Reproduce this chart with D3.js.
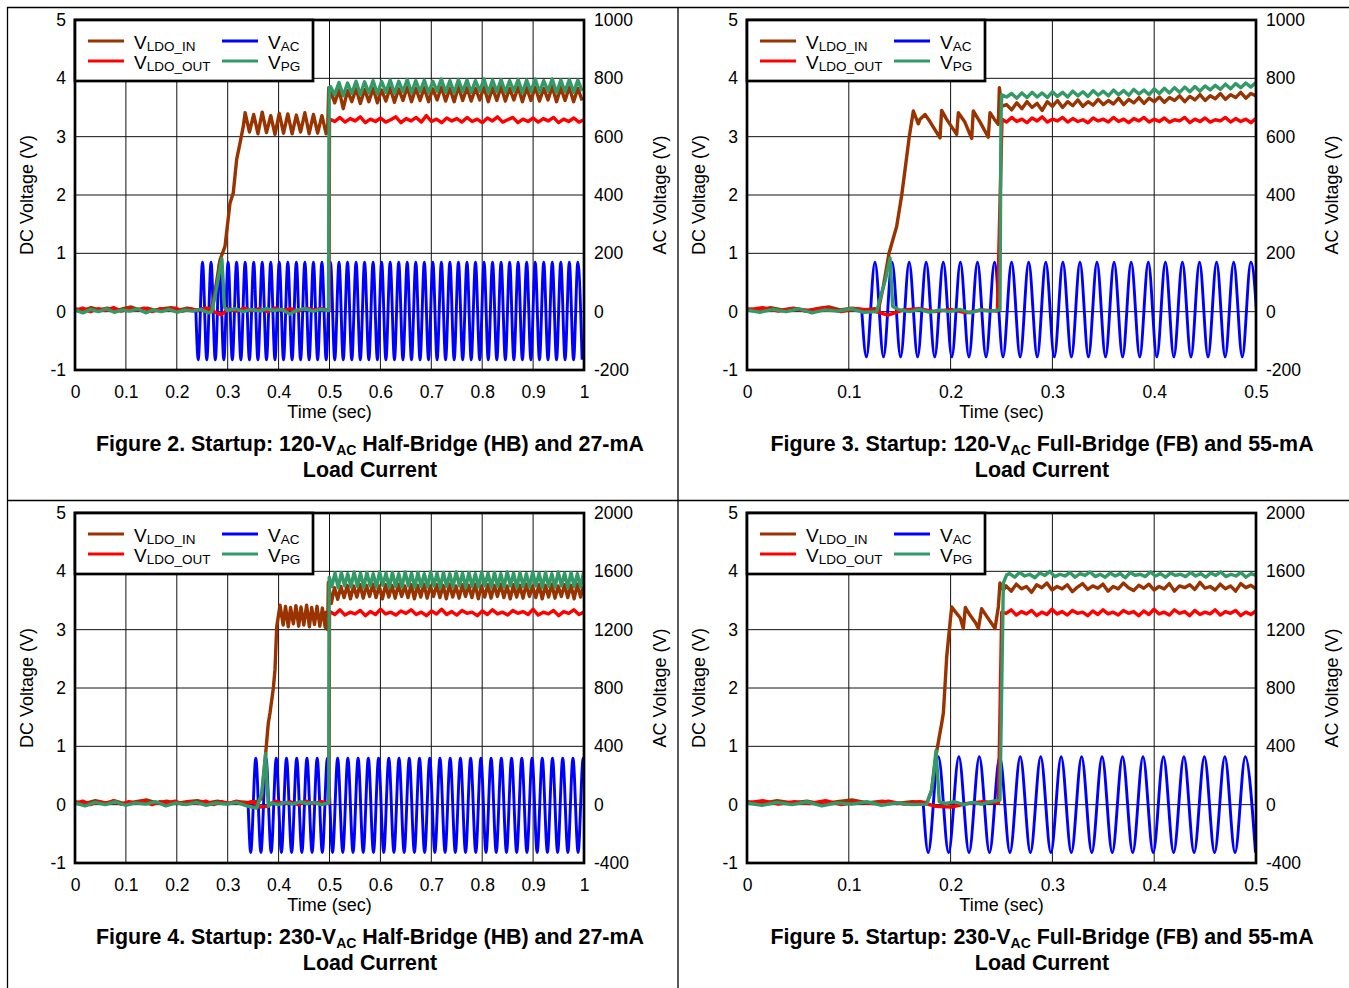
<!DOCTYPE html>
<html>
<head>
<meta charset="utf-8">
<script src="https://cdn.jsdelivr.net/npm/d3@7"></script>
<style>
  body { margin: 0; background: #fff; }
  svg text { font-family: "Liberation Sans", Arial, Helvetica, sans-serif; fill: #000; }
</style>
</head>
<body>
<svg id="svg" width="1349" height="988"></svg>
<script>
// ---------- ticks / labels ----------
const dcTicks = [-1, 0, 1, 2, 3, 4, 5]
const acTicks120 = [-200, 0, 200, 400, 600, 800, 1000]
const acTicks230 = [-400, 0, 400, 800, 1200, 1600, 2000]
const timeTicksFull = [0, 0.1, 0.2, 0.3, 0.4, 0.5, 0.6, 0.7, 0.8, 0.9, 1]
const timeTicksHalf = [0, 0.1, 0.2, 0.3, 0.4, 0.5]
const legendNames = ['LDO_IN', 'LDO_OUT', 'AC', 'PG']
const titleHead = ['Figure 2. Startup: 120-V', 'Figure 3. Startup: 120-V', 'Figure 4. Startup: 230-V', 'Figure 5. Startup: 230-V']
const titleTail = [' Half-Bridge (HB) and 27-mA', ' Full-Bridge (FB) and 55-mA', ' Half-Bridge (HB) and 27-mA', ' Full-Bridge (FB) and 55-mA']

// ---------- Figure 2 : 120 VAC half bridge ----------
const fig2AcStart = 0.2375
const fig2AcLevel = [170, -165]
const fig2AcPeakT = [0.2505,0.2673,0.2840,0.3008,0.3175,0.3343,0.3511,0.3678,0.3846,0.4013,0.4181,0.4349,0.4516,0.4684,0.4851,0.5019,0.5187,0.5354,0.5522,0.5689,0.5857,0.6025,0.6192,0.6360,0.6527,0.6695,0.6863,0.7030,0.7198,0.7365,0.7533,0.7701,0.7868,0.8036,0.8203,0.8371,0.8539,0.8706,0.8874,0.9041,0.9209,0.9377,0.9544,0.9712,0.9879]
const fig2AcTroughT = [0.2421,0.2589,0.2756,0.2924,0.3091,0.3259,0.3427,0.3594,0.3762,0.3929,0.4097,0.4265,0.4432,0.4600,0.4767,0.4935,0.5103,0.5270,0.5438,0.5605,0.5773,0.5941,0.6108,0.6276,0.6443,0.6611,0.6779,0.6946,0.7114,0.7281,0.7449,0.7617,0.7784,0.7952,0.8119,0.8287,0.8455,0.8622,0.8790,0.8957,0.9125,0.9293,0.9460,0.9628,0.9795,0.9963]

const fig2InBase = [0.05,0.02,0.07,0.03,0.06,0.01,0.05,0.08,0.03,0.06,0.02,0.05,0.07,0.03,0.06,0.02,0.05,0.06]
const fig2InRise = [[0.272,0.2],[0.278,0.5],[0.285,0.89],[0.2947,1.12],[0.3045,1.86],[0.311,2.04],[0.3176,2.61],[0.3242,2.89],[0.3307,3.18],[0.3343,3.41],[0.3427,3.08],[0.3511,3.38],[0.3594,3.05],[0.3678,3.42],[0.3762,3.07],[0.3846,3.36],[0.3929,3.04],[0.4013,3.40],[0.4097,3.06],[0.4181,3.39],[0.4265,3.05],[0.4349,3.37],[0.4432,3.08],[0.4516,3.41],[0.4600,3.05],[0.4684,3.38],[0.4767,3.06],[0.4851,3.36],[0.4935,3.05],[0.4965,3.15],[0.4985,3.84]]
const fig2InTail = [3.78,3.58,3.80,3.48,3.79,3.60,3.82,3.57,3.81,3.60,3.83,3.58,3.80,3.61,3.84,3.59,3.82,3.62,3.85,3.60,3.83,3.62,3.84,3.60,3.82,3.63,3.85,3.61,3.83,3.60,3.86,3.62,3.84,3.61,3.83,3.63,3.85,3.60,3.84,3.62,3.86,3.61,3.83,3.63,3.85,3.60,3.84,3.62,3.85,3.61,3.83,3.63,3.86,3.60,3.84,3.62,3.85,3.60,3.83,3.62]
const fig2OutBase = [0.02,0.06,0.0,0.05,0.02,0.07,0.01,0.05,0.03,0.06,0.0,0.05,0.03,0.06,0.01,0.05,0.02,0.06,0.0,-0.05,0.05,0.01,0.06,0.02,0.05,0.0,0.06,0.02,0.05,0.01,0.06,0.03,0.05,0.02]
const fig2OutTail = [3.30,3.26,3.33,3.25,3.31,3.27,3.34,3.24,3.30,3.26,3.32,3.25,3.29,3.34,3.24,3.31,3.27,3.33,3.25,3.36,3.26,3.30,3.24,3.32,3.27,3.31,3.25,3.33,3.26,3.30,3.24,3.32,3.27,3.34,3.25,3.29,3.33,3.24,3.30,3.26,3.32,3.25,3.31,3.27,3.33,3.24,3.30,3.26,3.32,3.25,3.29]
const fig2PgBase = [0.03,-0.02,0.04,0.0,0.05,-0.01,0.03,0.01,0.05,-0.02,0.03,0.0,0.04,-0.01,0.03,0.01,0.04,-0.02]
const fig2PgSpike = [[0.2686,0.0],[0.276,0.3],[0.282,0.6],[0.2885,0.91],[0.2905,0.6],[0.2935,0.08]]
const fig2PgMid = [0.02,0.05,0.0,0.04,0.01,0.05,0.02,0.04,-0.04,0.03,0.05,0.01,0.04,0.02]
const fig2PgTail = [3.86,3.72,3.93,3.70,3.92,3.74,3.95,3.72,3.94,3.75,3.96,3.73,3.95,3.76,3.97,3.74,3.95,3.77,3.98,3.75,3.96,3.77,3.97,3.75,3.95,3.78,3.99,3.76,3.96,3.75,3.98,3.77,3.97,3.76,3.96,3.78,3.99,3.75,3.97,3.77,3.98,3.76,3.96,3.78,3.98,3.75,3.97,3.77,3.99,3.76,3.96,3.78,3.99,3.75,3.97,3.77,3.98,3.76,3.97,3.78]

// ---------- Figure 3 : 120 VAC full bridge ----------
const fig3AcStart = 0.1128
const fig3AcLevel = [170, -155]
const fig3AcPeakT = [0.1257,0.1425,0.1593,0.1760,0.1928,0.2096,0.2264,0.2432,0.2599,0.2767,0.2935,0.3103,0.3271,0.3438,0.3606,0.3774,0.3942,0.4110,0.4277,0.4445,0.4613,0.4781,0.4949]
const fig3AcTroughT = [0.1173,0.1341,0.1509,0.1676,0.1844,0.2012,0.2180,0.2348,0.2515,0.2683,0.2851,0.3019,0.3187,0.3354,0.3522,0.3690,0.3858,0.4026,0.4193,0.4361,0.4529,0.4697,0.4865,0.5033]

const fig3InBase = [0.05,0.02,0.07,0.03,0.06,0.01,0.05,0.08,0.03,0.06,0.03,0.05]
const fig3InRise = [[0.129,0.03],[0.1339,0.43],[0.1395,1.0],[0.147,1.46],[0.152,2.0],[0.1552,2.43],[0.1594,3.0],[0.1634,3.44],[0.1683,3.22],[0.1700,3.3],[0.1749,3.38],[0.1800,3.25],[0.1896,2.98],[0.1912,3.45],[0.1960,3.3],[0.206,3.04],[0.2076,3.41],[0.2140,3.25],[0.2207,2.97],[0.2223,3.44],[0.2290,3.25],[0.237,2.99],[0.2387,3.41],[0.2430,3.3],[0.2469,3.21],[0.2479,3.84],[0.2502,3.52]]
const fig3InTail = [3.55,3.46,3.58,3.48,3.6,3.5,3.57,3.45,3.6,3.52,3.62,3.5,3.6,3.53,3.63,3.52,3.6,3.54,3.64,3.55,3.62,3.56,3.66,3.55,3.64,3.58,3.67,3.57,3.66,3.6,3.68,3.59,3.67,3.62,3.7,3.6,3.69,3.63,3.72,3.62,3.7,3.65,3.74,3.64,3.72,3.67,3.76,3.66,3.74,3.7]
const fig3OutBase = [0.03,0.07,0.01,0.05,0.02,0.07,0.0,0.05,0.02,-0.06,0.03,0.05,0.0,0.04,-0.02,0.03,0.01]
const fig3OutTail = [3.25,3.33,3.26,3.3,3.24,3.32,3.27,3.34,3.25,3.3,3.27,3.33,3.25,3.31,3.26,3.29,3.24,3.32,3.27,3.3,3.25,3.33,3.26,3.3,3.24,3.31,3.27,3.33,3.25,3.3,3.26,3.32,3.25,3.29,3.27,3.33,3.24,3.3,3.26,3.32,3.25,3.29,3.27,3.33,3.25,3.31,3.26,3.3,3.24,3.31]
const fig3PgBase = [0.03,-0.01,0.04,0.0,0.05,-0.02,0.03,0.01,0.05,-0.01,0.0]
const fig3PgSpike = [[0.132,0.3],[0.136,0.55],[0.1405,0.92],[0.1431,0.09]]
const fig3PgMid = [0.03,0.0,0.04,-0.01,0.03,0.0,0.04,-0.02,0.03,0.01,0.03]
const fig3PgTail = [3.68,3.74,3.66,3.75,3.67,3.76,3.68,3.75,3.67,3.77,3.69,3.76,3.68,3.78,3.7,3.77,3.69,3.79,3.71,3.78,3.7,3.8,3.72,3.79,3.71,3.81,3.73,3.8,3.72,3.82,3.74,3.83,3.75,3.84,3.76,3.85,3.77,3.86,3.78,3.87,3.8,3.88,3.81,3.9,3.82,3.91,3.84,3.92,3.85,3.93]

// ---------- Figure 4 : 230 VAC half bridge ----------
const fig4AcStart = 0.3402
const fig4AcLevel = [318, -328]
const fig4AcPeakT = [0.3552,0.3753,0.3954,0.4155,0.4356,0.4557,0.4758,0.4959,0.5160,0.5361,0.5562,0.5763,0.5964,0.6165,0.6366,0.6567,0.6768,0.6969,0.7170,0.7371,0.7572,0.7773,0.7974,0.8175,0.8376,0.8577,0.8778,0.8979,0.9180,0.9381,0.9582,0.9783,0.9984]
const fig4AcTroughT = [0.3452,0.3653,0.3854,0.4055,0.4256,0.4457,0.4658,0.4859,0.5060,0.5261,0.5462,0.5663,0.5864,0.6065,0.6266,0.6467,0.6668,0.6869,0.7070,0.7271,0.7472,0.7673,0.7874,0.8075,0.8276,0.8477,0.8678,0.8879,0.9080,0.9281,0.9482,0.9683,0.9884,1.0085]

const fig4InBase = [0.05,0.02,0.07,0.03,0.06,0.01,0.05,0.08,0.03,0.06,0.02,0.05,0.07,0.03,0.06,0.02,0.05,0.04,0.06]
const fig4InRise = [[0.3667,0.11],[0.3746,0.88],[0.3798,1.4],[0.3831,1.57],[0.3897,2.0],[0.3929,2.31],[0.3963,3.05],[0.4028,3.42],[0.409,3.08],[0.4135,3.40],[0.419,3.05],[0.4235,3.38],[0.429,3.1],[0.434,3.41],[0.4395,3.06],[0.444,3.39],[0.4495,3.08],[0.455,3.42],[0.4605,3.05],[0.465,3.38],[0.4705,3.09],[0.4755,3.40],[0.481,3.06],[0.486,3.37],[0.4915,3.04],[0.4935,3.3],[0.4964,3.0],[0.4977,3.81]]
const fig4InTail = [3.45,3.72,3.52,3.74,3.55,3.76,3.53,3.75,3.56,3.77,3.54,3.76,3.57,3.78,3.55,3.75,3.53,3.77,3.56,3.76,3.54,3.78,3.57,3.75,3.55,3.77,3.53,3.76,3.56,3.78,3.54,3.75,3.57,3.77,3.55,3.76,3.53,3.78,3.56,3.75,3.54,3.77,3.57,3.76,3.55,3.78,3.53,3.75,3.56,3.77,3.54,3.76,3.57,3.78,3.55,3.75,3.53,3.77,3.56,3.76,3.54,3.78,3.57,3.75,3.55,3.77,3.53,3.76,3.56,3.78,3.54,3.75,3.57,3.77,3.55,3.76,3.53,3.78,3.56,3.75]
const fig4OutBase = [0.02,0.06,0.0,0.05,0.02,0.07,0.01,0.05,0.03,0.06,0.0,0.05,0.03,0.06,0.01,0.05,0.02,0.06,0.0,0.05,0.02,0.06,0.01,0.05,-0.04,-0.03,0.06,0.02,0.05,0.0,0.06,0.02,0.05,0.02]
const fig4OutTail = [3.31,3.26,3.34,3.25,3.3,3.27,3.33,3.24,3.31,3.26,3.35,3.27,3.3,3.25,3.32,3.28,3.34,3.26,3.3,3.24,3.32,3.27,3.35,3.26,3.31,3.25,3.33,3.28,3.3,3.24,3.32,3.26,3.34,3.27,3.3,3.25,3.33,3.28,3.31,3.26,3.35,3.25,3.3,3.27,3.33,3.24,3.31,3.28,3.34,3.26,3.3]
const fig4PgBase = [0.03,-0.02,0.04,0.0,0.05,-0.01,0.03,0.01,0.05,-0.02,0.03,0.0,0.04,-0.01,0.03,0.01,0.04,-0.02,-0.06]
const fig4PgSpike = [[0.3667,0.19],[0.3746,0.88],[0.3765,0.5],[0.3798,-0.03]]
const fig4PgMid = [0.03,0.0,0.04,0.01,0.05,0.02,0.04,0.0,0.03]
const fig4PgTail = [3.74,3.97,3.72,3.98,3.75,3.96,3.73,3.99,3.74,3.97,3.72,3.98,3.75,3.96,3.73,3.99,3.76,3.97,3.72,3.98,3.74,3.96,3.73,3.99,3.75,3.97,3.72,3.98,3.74,3.96,3.73,3.99,3.75,3.97,3.72,3.98,3.74,3.96,3.73,3.99,3.75,3.97,3.72,3.98,3.74,3.96,3.73,3.99,3.75,3.97,3.72,3.98,3.74,3.96,3.73,3.99,3.75,3.97,3.72,3.98,3.74,3.96,3.73,3.99,3.75,3.97,3.72,3.98,3.74,3.96,3.73,3.99,3.75,3.97,3.72,3.98,3.74,3.96,3.73,3.99]

// ---------- Figure 5 : 230 VAC full bridge ----------
const fig5AcStart = 0.1732
const fig5AcLevel = [329, -329]
const fig5AcPeakT = [0.1880,0.2081,0.2282,0.2483,0.2684,0.2885,0.3086,0.3287,0.3488,0.3689,0.3890,0.4091,0.4292,0.4493,0.4694,0.4895]
const fig5AcTroughT = [0.1780,0.1980,0.2181,0.2382,0.2583,0.2784,0.2985,0.3186,0.3387,0.3588,0.3789,0.3990,0.4191,0.4392,0.4593,0.4794,0.4995]

const fig5InBase = [0.05,0.02,0.07,0.03,0.06,0.01,0.05,0.08,0.03,0.06,0.02,0.05,0.04]
const fig5InRise = [[0.1814,0.25],[0.1863,0.91],[0.1912,1.39],[0.1929,1.57],[0.1962,2.54],[0.1994,3.11],[0.2011,3.39],[0.205,3.3],[0.2095,3.2],[0.2125,3.02],[0.2145,3.38],[0.219,3.25],[0.2245,3.12],[0.2273,3.02],[0.2305,3.36],[0.235,3.24],[0.2405,3.1],[0.2436,3.02],[0.2469,3.39],[0.2485,3.8],[0.2518,3.68]]
const fig5InTail = [3.75,3.66,3.78,3.7,3.74,3.64,3.77,3.72,3.8,3.68,3.74,3.7,3.77,3.65,3.73,3.79,3.69,3.75,3.71,3.78,3.66,3.74,3.7,3.8,3.72,3.67,3.76,3.71,3.78,3.68,3.74,3.7,3.79,3.66,3.75,3.72,3.77,3.69,3.81,3.71,3.74,3.68,3.78,3.7,3.75,3.66,3.79,3.72,3.76,3.7]
const fig5OutBase = [0.03,0.07,0.01,0.05,0.02,0.07,0.0,0.05,0.02,0.06,0.01,0.05,-0.03,-0.04,0.02,0.05,0.03]
const fig5OutTail = [3.28,3.34,3.25,3.31,3.27,3.33,3.24,3.3,3.26,3.35,3.27,3.31,3.25,3.33,3.28,3.3,3.24,3.32,3.26,3.34,3.27,3.3,3.25,3.33,3.28,3.31,3.24,3.32,3.26,3.35,3.27,3.3,3.25,3.34,3.28,3.31,3.24,3.33,3.26,3.3,3.27,3.34,3.25,3.31,3.28,3.33,3.24,3.3,3.26,3.32]
const fig5PgBase = [0.03,-0.01,0.04,0.0,0.05,-0.02,0.03,0.01,0.05,-0.01,0.03,0.0,0.01]
const fig5PgSpike = [[0.1814,0.25],[0.1857,0.93],[0.1889,0.05]]
const fig5PgMid = [0.02,0.05,0.0,0.04,0.01,0.05,0.08]
const fig5PgTail = [3.96,3.9,3.98,3.92,3.95,3.89,3.97,3.93,4.0,3.91,3.95,3.92,3.98,3.9,3.96,3.93,3.99,3.91,3.95,3.9,3.97,3.92,3.96,3.89,3.98,3.93,3.95,3.91,3.99,3.92,3.96,3.9,3.97,3.93,3.95,3.91,3.98,3.92,3.96,3.9,3.97,3.93,3.99,3.91,3.95,3.92,3.98,3.9,3.96,3.93]

// ---------- helpers ----------
// evenly sampled stretch of a scope trace
function samples(span, vals) {
  const step = (span[1] - span[0]) / (vals.length - 1)
  return vals.map((v, i) => [span[0] + i * step, v])
}
function acWave(start, peakT, troughT, level) {
  const pts = [[start, 0]]
  peakT.forEach(t => pts.push([t, level[0]]))
  troughT.forEach(t => pts.push([t, level[1]]))
  return pts.sort((a, b) => a[0] - b[0])
}

const colors = { in: '#993300', out: '#ff0000', ac: '#0000ff', pg: '#339966' }

const panels = [
  {
    dx: 0, dy: 0, tMax: 1, timeTicks: timeTicksFull, acTicks: acTicks120,
    ac: acWave(fig2AcStart, fig2AcPeakT, fig2AcTroughT, fig2AcLevel),
    ldoIn: [...samples([0, 0.268], fig2InBase), ...fig2InRise, ...samples([0.5019, 0.9963], fig2InTail)],
    ldoOut: [...samples([0, 0.499], fig2OutBase), [0.5, 3.3], ...samples([0.5005, 1.0], fig2OutTail)],
    pg: [...samples([0, 0.262], fig2PgBase), ...fig2PgSpike, ...samples([0.30, 0.498], fig2PgMid), [0.4995, 3.84], ...samples([0.5019, 0.9963], fig2PgTail)]
  },
  {
    dx: 672, dy: 0, tMax: 0.5, timeTicks: timeTicksHalf, acTicks: acTicks120,
    ac: acWave(fig3AcStart, fig3AcPeakT, fig3AcTroughT, fig3AcLevel),
    ldoIn: [...samples([0, 0.126], fig3InBase), ...fig3InRise, ...samples([0.255, 0.5], fig3InTail)],
    ldoOut: [...samples([0, 0.246], fig3OutBase), [0.2505, 3.3], ...samples([0.255, 0.5], fig3OutTail)],
    pg: [...samples([0, 0.1274], fig3PgBase), ...fig3PgSpike, ...samples([0.15, 0.2485], fig3PgMid), [0.2495, 3.3], [0.2502, 3.72], ...samples([0.255, 0.5], fig3PgTail)]
  },
  {
    dx: 0, dy: 493, tMax: 1, timeTicks: timeTicksFull, acTicks: acTicks230,
    ac: acWave(fig4AcStart, fig4AcPeakT, fig4AcTroughT, fig4AcLevel),
    ldoIn: [...samples([0, 0.36], fig4InBase), ...fig4InRise, ...samples([0.5035, 0.9995], fig4InTail)],
    ldoOut: [...samples([0, 0.499], fig4OutBase), [0.5, 3.3], ...samples([0.5005, 1.0], fig4OutTail)],
    pg: [...samples([0, 0.357], fig4PgBase), ...fig4PgSpike, ...samples([0.385, 0.4985], fig4PgMid), [0.4995, 3.9], ...samples([0.5045, 0.9995], fig4PgTail)]
  },
  {
    dx: 672, dy: 493, tMax: 0.5, timeTicks: timeTicksHalf, acTicks: acTicks230,
    ac: acWave(fig5AcStart, fig5AcPeakT, fig5AcTroughT, fig5AcLevel),
    ldoIn: [...samples([0, 0.177], fig5InBase), ...fig5InRise, ...samples([0.2545, 0.5], fig5InTail)],
    ldoOut: [...samples([0, 0.247], fig5OutBase), [0.2502, 3.3], ...samples([0.2545, 0.5], fig5OutTail)],
    pg: [...samples([0, 0.1765], fig5PgBase), ...fig5PgSpike, ...samples([0.195, 0.2485], fig5PgMid), [0.2518, 3.8], [0.2551, 3.94], ...samples([0.258, 0.5], fig5PgTail)]
  }
]

// ---------- layout ----------
const svg = d3.select('#svg')
const plotW = 509, plotH = 350
const plotLeft = 75, plotTop = 20

// outer document frame
const frame = svg.append('g').attr('stroke', '#000').attr('stroke-width', 1.3)
frame.append('line').attr('x1', 7).attr('x2', 1349).attr('y1', 7.5).attr('y2', 7.5)
frame.append('line').attr('x1', 7).attr('x2', 1349).attr('y1', 500.5).attr('y2', 500.5)
frame.append('line').attr('x1', 7.5).attr('x2', 7.5).attr('y1', 7).attr('y2', 988)
frame.append('line').attr('x1', 678).attr('x2', 678).attr('y1', 7).attr('y2', 988)

panels.forEach((p, idx) => {
  const g = svg.append('g')
    .attr('transform', 'translate(' + (plotLeft + p.dx) + ',' + (plotTop + p.dy) + ')')

  const x = d3.scaleLinear().domain([0, p.tMax]).range([0, plotW])
  const yL = d3.scaleLinear().domain([-1, 5]).range([plotH, 0])
  const yR = d3.scaleLinear().domain([p.acTicks[0], p.acTicks[p.acTicks.length - 1]]).range([plotH, 0])

  // grid
  const grid = g.append('g').attr('stroke', '#111').attr('stroke-width', 1)
  grid.selectAll('.vg').data(p.timeTicks).enter().append('line')
    .attr('x1', d => x(d)).attr('x2', d => x(d)).attr('y1', 0).attr('y2', plotH)
  grid.selectAll('.hg').data(dcTicks).enter().append('line')
    .attr('x1', 0).attr('x2', plotW).attr('y1', d => yL(d)).attr('y2', d => yL(d))

  // traces
  const clipId = 'clip' + idx
  g.append('clipPath').attr('id', clipId).append('rect')
    .attr('x', 0).attr('y', 0).attr('width', plotW).attr('height', plotH)
  const traces = g.append('g').attr('clip-path', 'url(#' + clipId + ')')
    .attr('fill', 'none').attr('stroke-linejoin', 'round')

  const lineDc = d3.line().x(d => x(d[0])).y(d => yL(d[1]))
  const lineAc = d3.line().x(d => x(d[0])).y(d => yR(d[1])).curve(d3.curveMonotoneX)

  traces.append('path').attr('d', lineAc(p.ac)).attr('stroke', colors.ac).attr('stroke-width', 2.9)
  traces.append('path').attr('d', lineDc(p.ldoIn)).attr('stroke', colors.in).attr('stroke-width', 3.4)
  traces.append('path').attr('d', lineDc(p.ldoOut)).attr('stroke', colors.out).attr('stroke-width', 3.4)
  traces.append('path').attr('d', lineDc(p.pg)).attr('stroke', colors.pg).attr('stroke-width', 3.4)

  // plot frame
  g.append('rect').attr('x', 0).attr('y', 0).attr('width', plotW).attr('height', plotH)
    .attr('fill', 'none').attr('stroke', '#000').attr('stroke-width', 2.7)

  // axes
  const axL = g.append('g').call(d3.axisLeft(yL).tickValues(dcTicks).tickSize(0).tickPadding(9).tickFormat(d => String(d)))
  const axR = g.append('g').attr('transform', 'translate(' + plotW + ',0)')
    .call(d3.axisRight(yR).tickValues(p.acTicks).tickSize(0).tickPadding(10).tickFormat(d => String(d)))
  const axB = g.append('g').attr('transform', 'translate(0,' + plotH + ')')
    .call(d3.axisBottom(x).tickValues(p.timeTicks).tickSize(0).tickPadding(16).tickFormat(d => String(d)))
  ;[axL, axR, axB].forEach(a => {
    a.select('.domain').remove()
    a.attr('font-family', null).attr('font-size', null)
    a.selectAll('text').attr('font-size', '17.5px')
  })

  // axis titles
  g.append('text').attr('transform', 'translate(-48,' + plotH / 2 + ') rotate(-90)')
    .attr('text-anchor', 'middle').attr('dy', '0.35em').attr('font-size', '18px').text('DC Voltage (V)')
  g.append('text').attr('transform', 'translate(' + (plotW + 76) + ',' + plotH / 2 + ') rotate(-90)')
    .attr('text-anchor', 'middle').attr('dy', '0.35em').attr('font-size', '18px').text('AC Voltage (V)')
  g.append('text').attr('x', plotW / 2).attr('y', plotH + 48)
    .attr('text-anchor', 'middle').attr('font-size', '18px').text('Time (sec)')

  // legend
  const leg = g.append('g')
  leg.append('rect').attr('x', 0).attr('y', 0).attr('width', 238).attr('height', 61)
    .attr('fill', '#fff').attr('stroke', '#000').attr('stroke-width', 2.7)
  const legItems = [
    { name: legendNames[0], color: colors.in, col: 0, row: 0 },
    { name: legendNames[1], color: colors.out, col: 0, row: 1 },
    { name: legendNames[2], color: colors.ac, col: 1, row: 0 },
    { name: legendNames[3], color: colors.pg, col: 1, row: 1 }
  ]
  legItems.forEach(it => {
    const lx = it.col === 0 ? 13 : 147
    const ly = it.row === 0 ? 21 : 41
    leg.append('line').attr('x1', lx).attr('x2', lx + 36).attr('y1', ly).attr('y2', ly)
      .attr('stroke', it.color).attr('stroke-width', 3)
    const t = leg.append('text').attr('x', lx + 46).attr('y', ly + 8).attr('font-size', '19px')
    t.append('tspan').text('V')
    t.append('tspan').attr('font-size', '13.5px').attr('dy', 1.5).text(it.name)
  })

  // figure caption
  const cap = g.append('text').attr('x', 295).attr('y', plotH + 80.5)
    .attr('text-anchor', 'middle').attr('font-size', '21.4px').attr('font-weight', 'bold')
  cap.append('tspan').text(titleHead[idx])
  cap.append('tspan').attr('font-size', '14px').attr('dy', 4).text('AC')
  cap.append('tspan').attr('dy', -4).text(titleTail[idx])
  g.append('text').attr('x', 295).attr('y', plotH + 106.5)
    .attr('text-anchor', 'middle').attr('font-size', '21.4px').attr('font-weight', 'bold')
    .text('Load Current')
})
</script>
</body>
</html>
